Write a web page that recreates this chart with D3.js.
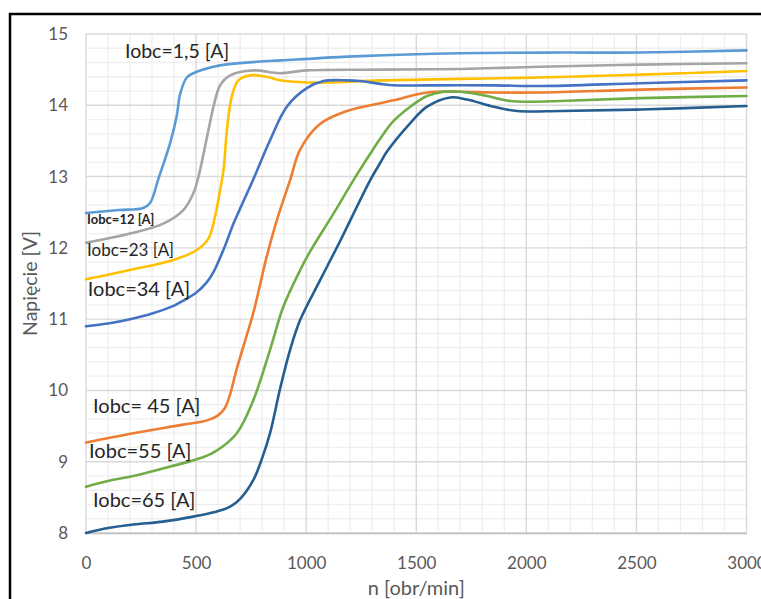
<!DOCTYPE html>
<html>
<head>
<meta charset="utf-8">
<script src="https://cdn.jsdelivr.net/npm/d3@7"></script>
<style>
  html, body { margin: 0; padding: 0; background: #fff; }
  svg { display: block; }
</style>
</head>
<body>
<svg id="chart" width="761" height="599"></svg>
<script>
// Alternator output voltage vs. rotational speed, one curve per load current
const seriesNames = ["Iobc=1,5 [A]", "Iobc=12 [A]", "Iobc=23 [A]", "Iobc=34 [A]", "Iobc= 45 [A]", "Iobc=55 [A]", "Iobc=65 [A]"];
const seriesColors = ["#5B9BD5", "#A5A5A5", "#FFC000", "#4472C4", "#ED7D31", "#70AD47", "#255E91"];

const xTicks = [0, 500, 1000, 1500, 2000, 2500, 3000];
const yTicks = [8, 9, 10, 11, 12, 13, 14, 15];

// [n (obr/min), U (V)]
const iobc1_5 = [[0,12.49],[150,12.53],[260,12.56],[291,12.63],[329,12.97],[382,13.47],[412,13.85],[427,14.15],[458,14.39],[503,14.47],[609,14.56],[776,14.61],[882,14.63],[1245,14.69],[1700,14.73],[2155,14.74],[2518,14.74],[3000,14.77]];
const iobc12 = [[0,12.07],[200,12.20],[351,12.34],[442,12.53],[488,12.77],[511,13.0],[556,13.65],[579,13.98],[609,14.28],[655,14.42],[761,14.49],[882,14.45],[1003,14.49],[1336,14.50],[1700,14.51],[2064,14.54],[2518,14.57],[3000,14.59]];
const iobc23 = [[0,11.56],[200,11.69],[397,11.83],[503,11.97],[556,12.13],[586,12.44],[609,12.81],[625,13.1],[640,13.65],[662,14.12],[692,14.35],[745,14.42],[821,14.40],[882,14.35],[1003,14.32],[1109,14.32],[1336,14.35],[1700,14.37],[2064,14.39],[2518,14.43],[3000,14.48]];
const iobc34 = [[0,10.90],[100,10.94],[200,11.00],[300,11.08],[400,11.19],[442,11.26],[500,11.37],[549,11.52],[579,11.66],[624,11.97],[670,12.34],[700,12.55],[761,12.97],[836,13.51],[912,13.98],[1003,14.24],[1079,14.34],[1185,14.35],[1245,14.34],[1336,14.30],[1397,14.28],[1549,14.28],[1852,14.28],[2064,14.27],[2518,14.31],[3000,14.35]];
const iobc45 = [[0,9.27],[215,9.40],[442,9.52],[550,9.58],[600,9.65],[630,9.75],[655,9.95],[680,10.25],[715,10.62],[761,11.10],[821,11.88],[867,12.39],[927,12.95],[973,13.38],[1064,13.74],[1185,13.92],[1245,13.97],[1336,14.03],[1397,14.07],[1549,14.18],[1700,14.19],[1852,14.18],[2064,14.18],[2518,14.22],[3000,14.25]];
const iobc55 = [[0,8.65],[100,8.73],[215,8.80],[367,8.92],[500,9.03],[580,9.13],[685,9.40],[761,9.87],[836,10.57],[897,11.18],[973,11.69],[1018,11.95],[1124,12.48],[1215,12.95],[1291,13.32],[1336,13.53],[1397,13.78],[1473,13.98],[1549,14.13],[1624,14.19],[1700,14.19],[1806,14.14],[1927,14.06],[2003,14.05],[2155,14.06],[2518,14.10],[3000,14.13]];
const iobc65 = [[0,8.0],[100,8.07],[215,8.12],[350,8.16],[488,8.23],[580,8.29],[655,8.37],[700,8.48],[761,8.75],[800,9.05],[836,9.40],[882,10.03],[927,10.57],[973,10.99],[1064,11.55],[1155,12.10],[1291,12.95],[1336,13.19],[1367,13.35],[1473,13.75],[1549,13.98],[1655,14.11],[1730,14.08],[1852,13.98],[1958,13.92],[2155,13.92],[2518,13.94],[3000,13.99]];

const seriesValues = [iobc1_5, iobc12, iobc23, iobc34, iobc45, iobc55, iobc65];

// Where each curve's label sits, in data units (n, U) of its left baseline point
const labelAnchors = [[177,14.66],[5,12.34],[5,11.88],[8,11.33],[32,9.68],[14,9.05],[32,8.37]];
const labelSizes = [19.5, 13, 17, 20, 20, 20, 20];
const labelWeights = ["normal", "bold", "normal", "normal", "normal", "normal", "normal"];

const W = 761, H = 599;
const plot = { left: 86, right: 746.5, top: 34, bottom: 533 };

const svg = d3.select("#chart");
svg.append("rect").attr("width", W).attr("height", H).attr("fill", "#fff");

const x = d3.scaleLinear().domain([0, 3000]).range([plot.left, plot.right]);
const y = d3.scaleLinear().domain([8, 15]).range([plot.bottom, plot.top]);

// minor grid
const minorX = d3.range(0, 3001, 100).filter(v => v % 500 !== 0);
const minorY = d3.range(80, 151, 2).map(v => v / 10).filter(v => Math.abs(v - Math.round(v)) > 1e-6);
const grid = svg.append("g");
grid.selectAll(".mx").data(minorX).join("line")
  .attr("x1", d => x(d)).attr("x2", d => x(d))
  .attr("y1", plot.top).attr("y2", plot.bottom)
  .attr("stroke", "#efefef").attr("stroke-width", 1.3);
grid.selectAll(".my").data(minorY).join("line")
  .attr("x1", plot.left).attr("x2", plot.right)
  .attr("y1", d => y(d)).attr("y2", d => y(d))
  .attr("stroke", "#efefef").attr("stroke-width", 1.3);
// major grid
grid.selectAll(".Mx").data(xTicks).join("line")
  .attr("x1", d => x(d)).attr("x2", d => x(d))
  .attr("y1", plot.top).attr("y2", plot.bottom)
  .attr("stroke", "#d9d9d9").attr("stroke-width", 1.4);
grid.selectAll(".My").data(yTicks).join("line")
  .attr("x1", plot.left).attr("x2", plot.right)
  .attr("y1", d => y(d)).attr("y2", d => y(d))
  .attr("stroke", "#d9d9d9").attr("stroke-width", 1.4);

// axes (labels only, no tick marks)
const tickFont = "Lato, 'Open Sans', sans-serif";
const xAxis = svg.append("g").attr("transform", `translate(0,${plot.bottom})`)
  .call(d3.axisBottom(x).tickValues(xTicks).tickSize(0).tickPadding(24).tickFormat(d3.format("d")));
xAxis.select(".domain").attr("stroke", "#bfbfbf").attr("stroke-width", 1.4);
xAxis.selectAll("text").attr("fill", "#595959").style("font-family", tickFont).style("font-size", "17px");

const yAxis = svg.append("g").attr("transform", `translate(${plot.left},0)`)
  .call(d3.axisLeft(y).tickValues(yTicks).tickSize(0).tickPadding(18).tickFormat(d3.format("d")));
yAxis.select(".domain").remove();
yAxis.selectAll("text").attr("fill", "#595959").style("font-family", tickFont).style("font-size", "17px");

// axis titles
svg.append("text")
  .attr("transform", `translate(37,${(plot.top + plot.bottom) / 2}) rotate(-90)`)
  .attr("text-anchor", "middle")
  .attr("fill", "#595959").style("font-family", tickFont).style("font-size", "19.5px")
  .text("Napięcie [V]");
svg.append("text")
  .attr("x", (plot.left + plot.right) / 2).attr("y", 595)
  .attr("text-anchor", "middle")
  .attr("fill", "#595959").style("font-family", tickFont).style("font-size", "20px")
  .text("n [obr/min]");

// curves
const line = d3.line().x(d => x(d[0])).y(d => y(d[1])).curve(d3.curveCatmullRom.alpha(0.5));
svg.append("g").selectAll("path").data(seriesValues).join("path")
  .attr("d", line)
  .attr("fill", "none")
  .attr("stroke", (d, i) => seriesColors[i])
  .attr("stroke-width", 2.6)
  .attr("stroke-linejoin", "round").attr("stroke-linecap", "round");

// curve labels
svg.append("g").selectAll("text").data(seriesNames).join("text")
  .attr("x", (d, i) => x(labelAnchors[i][0]))
  .attr("y", (d, i) => y(labelAnchors[i][1]))
  .attr("fill", "#262626")
  .style("font-family", tickFont)
  .style("font-size", (d, i) => labelSizes[i] + "px")
  .style("font-weight", (d, i) => labelWeights[i])
  .text(d => d);

// outer frame
svg.append("rect")
  .attr("x", 10).attr("y", 14).attr("width", 800).attr("height", 700)
  .attr("fill", "none").attr("stroke", "#000").attr("stroke-width", 2.5);
</script>
</body>
</html>
